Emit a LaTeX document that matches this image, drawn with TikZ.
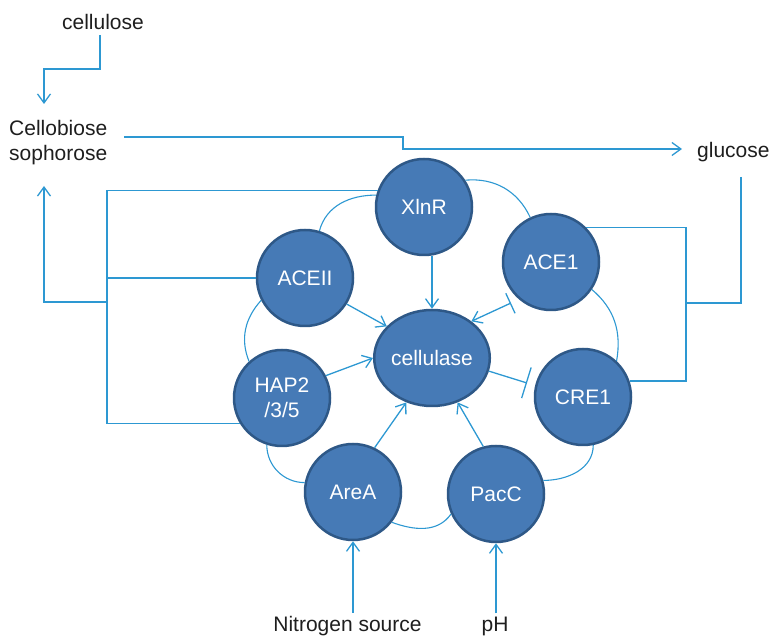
\documentclass[tikz,border=0pt]{standalone}
\usepackage{fontspec}
\setmainfont{Liberation Sans}
\usetikzlibrary{arrows.meta,shapes.geometric,calc}
\definecolor{tffill}{RGB}{70,122,182}
\definecolor{tfborder}{RGB}{46,88,135}
\definecolor{wireblue}{RGB}{45,152,210}
\definecolor{ink}{RGB}{30,30,30}

\begin{document}
\begin{tikzpicture}[x=1pt,y=1pt,
  tf/.style={circle,fill=tffill,draw=tfborder,line width=2.5pt,minimum size=96pt,
    inner sep=0pt,text=white,font=\fontsize{21}{25}\selectfont,align=center},
  txt/.style={text=ink,font=\fontsize{21}{25}\selectfont,inner sep=0pt},
  wire/.style={draw=wireblue,line width=1.3pt},
  act/.style={wire,-{Straight Barb[length=9pt,width=13pt]}},
  ring/.style={draw=wireblue,line width=1.1pt}]

\useasboundingbox (0,0) rectangle (771,637);

% transcription factors around the cellulase node
\node[tf] (xlnr)  at (424,430) {XlnR};
\node[tf] (aceii) at (305,359) {ACEII};
\node[tf] (ace1)  at (551,375) {ACE1};
\node[tf] (cre)   at (583,240) {CRE1};
\node[tf] (hap)   at (282,239) {HAP2\\/3/5};
\node[tf] (area)  at (353,145) {AreA};
\node[tf] (pacc)  at (496,143) {PacC};
\node[tf,ellipse,minimum width=110pt,minimum height=96pt] (cel) at (432,279) {cellulase};

% plain labels
\node[txt,anchor=base] (cellulose) at (103,607) {cellulose};
\node[txt,anchor=north west,align=left] (cb) at (9,517) {Cellobiose\\sophorose};
\node[txt,anchor=base west] (glucose) at (697,479) {glucose};
\node[txt,anchor=base] (nitro) at (347.5,5) {Nitrogen source};
\node[txt,anchor=base] (ph) at (495,5) {pH};

% routing points
\coordinate (c1) at (100,602);
\coordinate (c1b) at (44,568);
\coordinate (c2) at (44,533);
\coordinate (g0) at (124,500);
\coordinate (g1) at (403,500);
\coordinate (g2) at (682,488);
\coordinate (lb) at (107,335);
\coordinate (lt) at (44,451);
\coordinate (rb) at (686,334);
\coordinate (gd) at (741,460);
\coordinate (b1) at (511,334);
\coordinate (b2) at (527,254);

% cellulose -> cellobiose/sophorose -> glucose
\draw[act] (c1) |- (c1b) -- (c2);
\draw[act] (g0) -- (g1) |- (g2);

% left bus: XlnR, ACEII, HAP2 back to the inducers
\draw[wire] (xlnr.160) -| (hap.211 -| lb) -- (hap.211);
\draw[wire] (aceii.west) -- (aceii.west -| lb);
\draw[act] (lb) -| (lt);

% right bus: glucose to ACE1 and CRE1
\draw[wire] (ace1.45) -| (rb) |- (cre.19);
\draw[wire] (gd) |- (rb);

% activators of cellulase
\draw[act] (xlnr.south -| cel.north) -- (cel.north);
\draw[act] (aceii.-32) -- (cel.145);
\draw[act] (hap.27) -- (cel.west);
\draw[act] (area.64) -- (cel.-120);
\draw[act] (pacc.105) -- (cel.-60);
\draw[act] ([yshift=4pt]nitro.north -| area.south) -- (area.south);
\draw[act] ([yshift=4pt]ph.north -| pacc.south) -- (pacc.south);

% repressors
\draw[wire,{Bar[width=22pt]}-{Straight Barb[length=9pt,width=13pt]}] (b1) -- (cel.43);
\draw[wire,-{Bar[width=32pt]}] (cel.-13) -- (b2);

% ring linking neighbouring factors
\draw[ring] (xlnr.33)  to[out=5,in=115]    (ace1.115);
\draw[ring] (xlnr.166) to[out=180,in=75]   (aceii.73);
\draw[ring] (aceii.207) to[out=228,in=112] (hap.132);
\draw[ring] (hap.252)  to[out=270,in=180]  (area.169);
\draw[ring] (area.-38) to[out=-20,in=235]  (pacc.204);
\draw[ring] (pacc.16)  to[out=0,in=270]    (cre.-78);
\draw[ring] (cre.47)   to[out=80,in=-40]   (ace1.-34);

\end{tikzpicture}
\end{document}
